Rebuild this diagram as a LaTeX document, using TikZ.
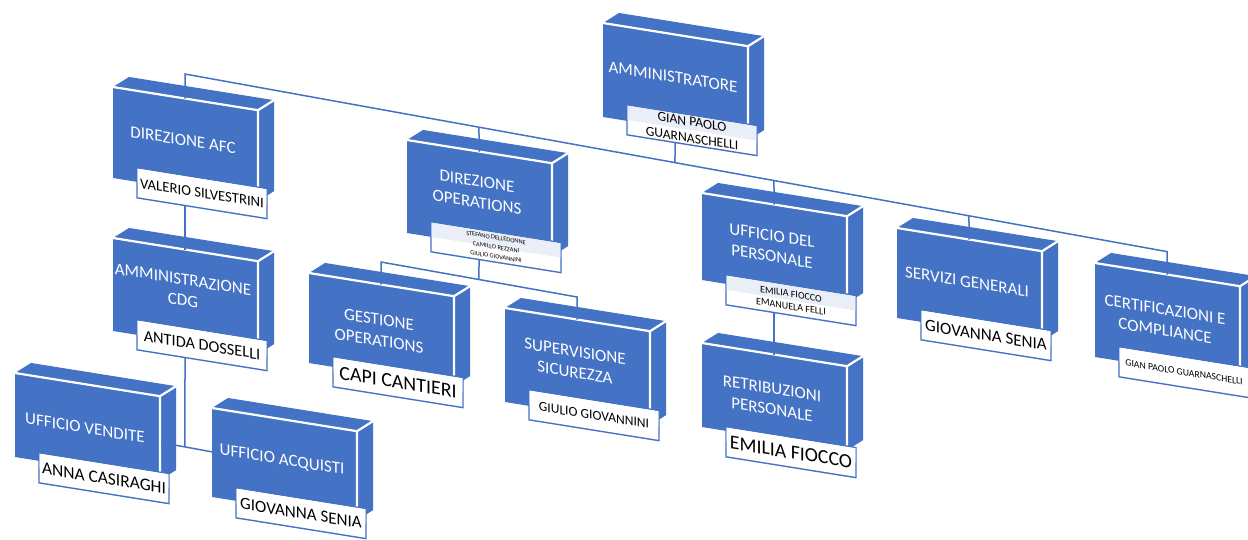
\documentclass[tikz,border=0pt]{standalone}
\usepackage{fontspec}
\setmainfont{Carlito}
\definecolor{boxblue}{HTML}{4472C4}
\definecolor{lineblue}{HTML}{4472C4}
\definecolor{bandblue}{HTML}{EAEFF7}
\tikzset{
  edgeline/.style={white, line width=2.2pt, line join=round},
  labelbox/.style={fill=white, draw=boxblue, line width=1.4pt},
  titletext/.style={text=white, align=center, inner sep=0pt, transform shape, font=\fontsize{17}{21}\selectfont},
  nametext/.style={text=black, align=center, inner sep=0pt, transform shape},
  conn/.style={draw=lineblue, line width=1.5pt},
}
\newcommand\bandcol{white}
% #1 name, #2 X, #3 Y, #4 H, #5 title v, #6 title, #7 label v, #8 label style, #9 label text
\newcommand\obox[9]{%
\begin{scope}[shift={(#2,#3)}, yslant=-0.16]
  \fill[boxblue] (0,0) -- (145,0) -- (161,-12.6) -- (16,-12.6) -- cycle;
  \fill[boxblue] (145,0) -- (161,-12.6) -- (161,#4-12.6) -- (145,#4) -- cycle;
  \fill[boxblue] (0,0) rectangle (145,#4);
  \draw[edgeline] (0,0) -- (145,0) -- (145,#4);
  \draw[edgeline] (145,0) -- (161,-12.6);
  \node[titletext] (#1) at (70,#5) {#6};
  \filldraw[labelbox] (24,#7) rectangle (154,#7+30);
  \fill[\bandcol] (24.7,#7+0.7) rectangle (153.3,#7+15);
  \node[nametext,#8] (#1name) at (89,#7+15) {#9};
  \coordinate (#1T) at (72,0);
  \coordinate (#1U) at (72,-60);
  \coordinate (#1B) at (72,#7+30);
\end{scope}}
\begin{document}
\begin{tikzpicture}[x=1pt,y=-1pt]
\useasboundingbox (0,0) rectangle (1248,540);
\fill[white] (0,0) rectangle (1248,540);
\clip (0,0) rectangle (1248,540);

\renewcommand\bandcol{bandblue}
\obox{adm}{603}{23}{94}{42.8}{AMMINISTRATORE}{78}{font=\fontsize{13.6}{16.5}\selectfont}{GIAN PAOLO\\GUARNASCHELLI}
\renewcommand\bandcol{white}
\obox{afc}{113}{87}{91}{41.8}{DIREZIONE AFC}{77}{font=\fontsize{14.7}{17}\selectfont}{VALERIO SILVESTRINI}
\renewcommand\bandcol{bandblue}
\obox{ops}{407}{140}{93}{40.6}{DIREZIONE\\OPERATIONS}{78}{font=\fontsize{6.3}{9.5}\selectfont}{STEFANO DELLEDONNE\\CAMILLO REZZANI\\GIULIO GIOVANNINI}
\obox{pers}{702}{193}{87}{41.8}{UFFICIO DEL\\PERSONALE}{78}{font=\fontsize{10}{12.5}\selectfont}{EMILIA FIOCCO\\EMANUELA FELLI}
\renewcommand\bandcol{white}
\obox{serv}{897}{228}{90}{42.6}{SERVIZI GENERALI}{78}{font=\fontsize{17}{20}\selectfont}{GIOVANNA SENIA}
\obox{cert}{1095}{263}{94}{46}{CERTIFICAZIONI E\\COMPLIANCE}{80}{font=\fontsize{9.7}{12}\selectfont}{GIAN PAOLO GUARNASCHELLI}
\obox{cdg}{113}{238}{93}{40.8}{AMMINISTRAZIONE\\CDG}{78}{font=\fontsize{16.3}{19}\selectfont}{ANTIDA DOSSELLI}
\obox{gest}{309}{273}{90}{46}{GESTIONE\\OPERATIONS}{80}{font=\fontsize{19.9}{22}\selectfont}{CAPI CANTIERI}
\obox{sup}{505}{308}{94}{42.8}{SUPERVISIONE\\SICUREZZA}{78}{font=\fontsize{13.5}{16}\selectfont}{GIULIO GIOVANNINI}
\obox{retr}{702}{343}{84}{44.8}{RETRIBUZIONI\\PERSONALE}{80}{font=\fontsize{19.8}{22}\selectfont}{EMILIA FIOCCO}
\obox{vend}{15}{373}{84}{43.8}{UFFICIO VENDITE}{76}{font=\fontsize{17.4}{20}\selectfont}{ANNA CASIRAGHI}
\obox{acq}{212}{408}{89}{41.1}{UFFICIO ACQUISTI}{76}{font=\fontsize{17}{20}\selectfont}{GIOVANNA SENIA}

% main bus
\path (afcT) ++(0,-24.5) coordinate (busL);
\path (certT) ++(0,-22.9) coordinate (busR);
\coordinate (jops) at (intersection of busL--busR and opsT--opsU);
\coordinate (jadm) at (intersection of busL--busR and admB--admT);
\coordinate (jpers) at (intersection of busL--busR and persT--persU);
\coordinate (jserv) at (intersection of busL--busR and servT--servU);
\draw[conn] (afcT) -- (busL) -- (busR) -- (certT);
\draw[conn] (opsT) -- (jops);
\draw[conn] (admB) -- (jadm);
\draw[conn] (persT) -- (jpers);
\draw[conn] (servT) -- (jserv);

% AFC -> CDG
\draw[conn] (afcB) -- (cdgT);

% operations subtree
\path (gestT) ++(0,-22.5) coordinate (sbL);
\path (supT) ++(0,-22.5) coordinate (sbR);
\coordinate (jsub) at (intersection of sbL--sbR and opsB--opsT);
\draw[conn] (gestT) -- (sbL) -- (sbR) -- (supT);
\draw[conn] (opsB) -- (jsub);

% personale -> retribuzioni
\draw[conn] (persB) -- (retrT);

% CDG -> vendite / acquisti
\coordinate (vendR) at (161,442.5);
\coordinate (acqL) at (212,451.9);
\coordinate (jcdg) at (intersection of vendR--acqL and cdgB--cdgT);
\draw[conn] (cdgB) -- (jcdg);
\draw[conn] (vendR) -- (acqL);
\end{tikzpicture}
\end{document}
